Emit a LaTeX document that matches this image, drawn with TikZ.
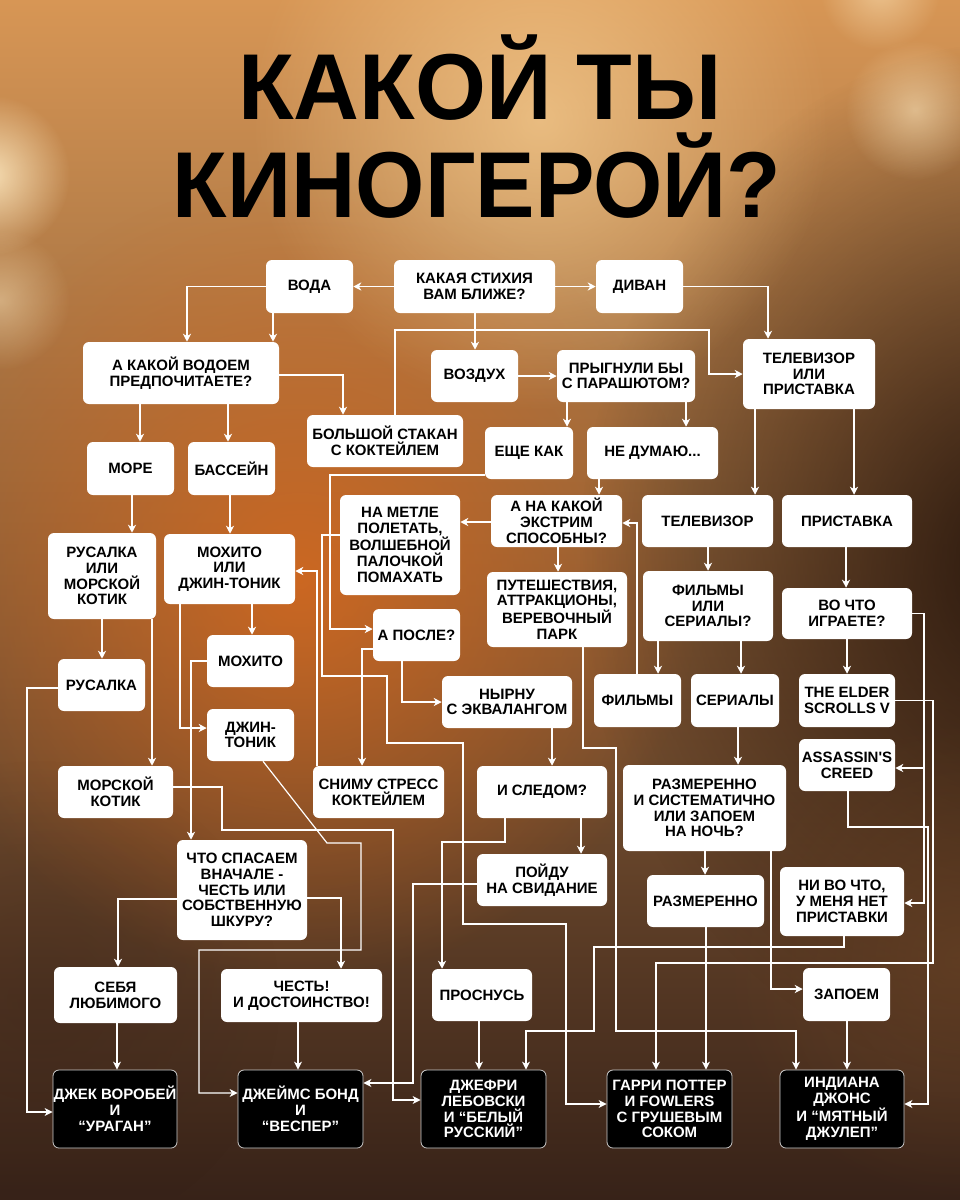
\documentclass[tikz,border=0pt]{standalone}
\usepackage{fontspec}
\newfontfamily\lsans{Liberation Sans}
\usetikzlibrary{fit,arrows.meta,fadings}
\newcommand\bxf{\lsans\bfseries\fontsize{11.25}{11.8}\selectfont}
\newcommand\ttlf{\lsans\bfseries\fontsize{70.2}{72}\selectfont}
\definecolor{ctop}{RGB}{215,150,85}
\definecolor{cmid}{RGB}{175,90,35}
\definecolor{cbot}{RGB}{55,34,24}
\definecolor{cor}{RGB}{215,105,30}
\definecolor{cdark}{RGB}{34,18,10}
\definecolor{cpeach}{RGB}{252,215,155}
\definecolor{cbok}{RGB}{255,236,196}
\definecolor{cbrn}{RGB}{120,75,40}
\tikzfading[name=fuzzy, inner color=transparent!0, outer color=transparent!100]
\pgfdeclarelayer{bg}\pgfdeclarelayer{fg}\pgfdeclarelayer{fgt}\pgfsetlayers{bg,main,fg,fgt}
\tikzset{
  wb/.style={fill=white, rounded corners=4.5pt, inner sep=0pt},
  bb/.style={fill=black, draw=white!80!black, line width=0.6pt, rounded corners=4.5pt, inner sep=0pt},
  wt/.style={font=\bxf, align=center, inner sep=0pt, text=black},
  bt/.style={font=\bxf, align=center, inner sep=0pt, text=white},
  arr/.style={draw=white, line width=0.9pt, -{Stealth[length=6pt,width=6pt,inset=1.8pt]}}
}
\newcommand\wbox[3]{\node[wb, fit={#2}] (#1) {};\node[wt] (#1-t) at (#1.center) {#3};}
\newcommand\bbox[3]{\node[bb, fit={#2}] (#1) {};\node[bt] (#1-t) at (#1.center) {#3};}
\begin{document}
\begin{tikzpicture}[x=0.75pt,y=-0.75pt]
\useasboundingbox (0,0) rectangle (960,1200);
\begin{pgfonlayer}{bg}
\shade[top color=ctop, middle color=cmid, bottom color=cbot] (0,0) rectangle (960,1200);
\fill[cor, path fading=fuzzy, opacity=0.85] (300,580) circle (400);
\fill[cdark, path fading=fuzzy, opacity=0.92] (1020,560) ellipse (440 and 520);
\fill[cpeach, path fading=fuzzy, opacity=0.65] (540,120) circle (290);
\fill[cbok, path fading=fuzzy, opacity=0.85] (-10,175) circle (80);
\fill[cbok, path fading=fuzzy, opacity=0.45] (0,300) circle (70);
\fill[cbok, path fading=fuzzy, opacity=0.55] (915,110) circle (70);
\fill[cbok, path fading=fuzzy, opacity=0.5] (880,-10) circle (60);
\fill[cbrn, path fading=fuzzy, opacity=0.45] (960,960) circle (240);
\fill[cbot, path fading=fuzzy, opacity=0.35] (40,1000) circle (240);
\end{pgfonlayer}

\node[anchor=base, font=\ttlf, text=black, inner sep=0pt] (t1) at (480,119) {\scalebox{0.974}[1]{КАКОЙ ТЫ}};
\node[anchor=base, font=\ttlf, text=black, inner sep=0pt] (t2) at (477,217) {\scalebox{0.952}[1]{КИНОГЕРОЙ?}};

\begin{pgfonlayer}{fg}
\wbox{kakaya}{(394,260)(555,313)}{КАКАЯ СТИХИЯ\\ВАМ БЛИЖЕ?}
\wbox{voda}{(266,260)(353,313)}{ВОДА}
\wbox{divan}{(596,260)(683,313)}{ДИВАН}
\wbox{vodoem}{(83,342)(279,404)}{А КАКОЙ ВОДОЕМ\\ПРЕДПОЧИТАЕТЕ?}
\wbox{more}{(87,442)(174,495)}{МОРЕ}
\wbox{bassein}{(188,442)(275,495)}{БАССЕЙН}
\wbox{stakan}{(307,415)(463,467)}{БОЛЬШОЙ СТАКАН\\С КОКТЕЙЛЕМ}
\wbox{vozduh}{(431,350)(518,402)}{ВОЗДУХ}
\wbox{pryg}{(557,350)(695,402)}{ПРЫГНУЛИ БЫ\\С ПАРАШЮТОМ?}
\wbox{tvp}{(743,339)(875,409)}{ТЕЛЕВИЗОР\\ИЛИ\\ПРИСТАВКА}
\wbox{eshe}{(485,427)(573,479)}{ЕЩЕ КАК}
\wbox{nedum}{(587,427)(718,479)}{НЕ ДУМАЮ...}
\wbox{extrim}{(491,495)(622,547)}{А НА КАКОЙ\\ЭКСТРИМ\\СПОСОБНЫ?}
\wbox{tv}{(642,495)(773,547)}{ТЕЛЕВИЗОР}
\wbox{prist}{(782,495)(912,547)}{ПРИСТАВКА}
\wbox{metla}{(340,495)(460,595)}{НА МЕТЛЕ\\ПОЛЕТАТЬ,\\ВОЛШЕБНОЙ\\ПАЛОЧКОЙ\\ПОМАХАТЬ}
\wbox{travel}{(487,572)(627,647)}{ПУТЕШЕСТВИЯ,\\АТТРАКЦИОНЫ,\\ВЕРЕВОЧНЫЙ\\ПАРК}
\wbox{posle}{(373,609)(460,661)}{А ПОСЛЕ?}
\wbox{nyrnu}{(442,676)(572,728)}{НЫРНУ\\С ЭКВАЛАНГОМ}
\wbox{rusorkot}{(48,533)(156,619)}{РУСАЛКА\\ИЛИ\\МОРСКОЙ\\КОТИК}
\wbox{mohordzh}{(164,534)(295,604)}{МОХИТО\\ИЛИ\\ДЖИН-ТОНИК}
\wbox{mohito}{(207,635)(294,687)}{МОХИТО}
\wbox{rusalka}{(58,659)(145,711)}{РУСАЛКА}
\wbox{dzhin}{(207,709)(294,761)}{ДЖИН-\\ТОНИК}
\wbox{morkot}{(58,766)(173,818)}{МОРСКОЙ\\КОТИК}
\wbox{snimu}{(313,766)(444,818)}{СНИМУ СТРЕСС\\КОКТЕЙЛЕМ}
\wbox{filmy}{(594,674)(681,727)}{ФИЛЬМЫ}
\wbox{serialy}{(691,674)(779,727)}{СЕРИАЛЫ}
\wbox{fors}{(643,571)(773,641)}{ФИЛЬМЫ\\ИЛИ\\СЕРИАЛЫ?}
\wbox{vochto}{(782,588)(912,639)}{ВО ЧТО\\ИГРАЕТЕ?}
\wbox{elder}{(799,674)(895,727)}{THE ELDER\\SCROLLS V}
\wbox{assassin}{(799,739)(895,791)}{ASSASSIN'S\\CREED}
\wbox{sledom}{(477,766)(607,818)}{И СЛЕДОМ?}
\wbox{razmsys}{(623,765)(786,851)}{РАЗМЕРЕННО\\И СИСТЕМАТИЧНО\\ИЛИ ЗАПОЕМ\\НА НОЧЬ?}
\wbox{svidanie}{(477,854)(607,906)}{ПОЙДУ\\НА СВИДАНИЕ}
\wbox{razm}{(647,875)(764,927)}{РАЗМЕРЕННО}
\wbox{nivochto}{(780,867)(904,936)}{НИ ВО ЧТО,\\У МЕНЯ НЕТ\\ПРИСТАВКИ}
\wbox{spasaem}{(177,840)(307,940)}{ЧТО СПАСАЕМ\\ВНАЧАЛЕ -\\ЧЕСТЬ ИЛИ\\СОБСТВЕННУЮ\\ШКУРУ?}
\wbox{sebya}{(54,967)(177,1023)}{СЕБЯ\\ЛЮБИМОГО}
\wbox{chest}{(221,969)(382,1022)}{ЧЕСТЬ!\\И ДОСТОИНСТВО!}
\wbox{prosnus}{(432,969)(532,1021)}{ПРОСНУСЬ}
\wbox{zapoem}{(803,968)(890,1021)}{ЗАПОЕМ}
\bbox{jack}{(53,1070)(177,1148)}{ДЖЕК ВОРОБЕЙ\\И\\“УРАГАН”}
\bbox{bond}{(238,1070)(363,1148)}{ДЖЕЙМС БОНД\\И\\“ВЕСПЕР”}
\bbox{lebowski}{(421,1070)(546,1148)}{ДЖЕФРИ\\ЛЕБОВСКИ\\И “БЕЛЫЙ\\РУССКИЙ”}
\bbox{potter}{(607,1070)(732,1148)}{ГАРРИ ПОТТЕР\\И FOWLERS\\С ГРУШЕВЫМ\\СОКОМ}
\bbox{indiana}{(780,1070)(904,1148)}{ИНДИАНА\\ДЖОНС\\И “МЯТНЫЙ\\ДЖУЛЕП”}
\end{pgfonlayer}

% connectors
\draw[arr] (kakaya.west) -- (voda.east);
\draw[arr] (kakaya.east) -- (divan.west);
\draw[arr] (voda.west) -| (vodoem.north -| 187,0);
\draw[arr] (voda.south -| 273,0) -- (vodoem.north -| 273,0);
\draw[arr] (kakaya.south -| 475,0) -- (vozduh.north -| 475,0);
\draw[arr] (stakan.north -| 395,0) |- (709,330) |- (tvp.west);
\draw[arr] (vodoem.east |- 0,375) -| (stakan.north -| 343,0);
\draw[arr] (vodoem.south -| 140,0) -- (more.north -| 140,0);
\draw[arr] (vodoem.south -| 228,0) -- (bassein.north -| 228,0);
\draw[arr] (more.south -| 132,0) -- (rusorkot.north -| 132,0);
\draw[arr] (bassein.south -| 230,0) -- (mohordzh.north -| 230,0);
\draw[arr] (vozduh.east) -- (pryg.west);
\draw[arr] (divan.east) -| (tvp.north -| 768,0);
\draw[arr] (pryg.south -| 567,0) -- (eshe.north -| 567,0);
\draw[arr] (pryg.south -| 686,0) -- (nedum.north -| 686,0);
\draw[arr] (tvp.south -| 755,0) -- (tv.north -| 755,0);
\draw[arr] (tvp.south -| 854,0) -- (prist.north -| 854,0);
\draw[arr] (nedum.south -| 599,0) -- (extrim.north -| 599,0);
\draw[arr] (eshe.west |- 0,475) -| (330,629) -- (posle.west |- 0,629);
\draw[arr] (metla.west |- 0,535) -| (322,676) -| (387,743) -| (463,924) -| (566,1104) -- (potter.west |- 0,1104);
\draw[arr] (extrim.west |- 0,522) -- (metla.east |- 0,522);
\draw[arr] (extrim.south -| 558,0) -- (travel.north -| 558,0);
\draw[arr] (filmy.north -| 637,0) |- (extrim.east |- 0,523);
\draw[arr] (tv.south -| 708,0) -- (fors.north -| 708,0);
\draw[arr] (prist.south -| 846,0) -- (vochto.north -| 846,0);
\draw[arr] (fors.south -| 658,0) -- (filmy.north -| 658,0);
\draw[arr] (fors.south -| 741,0) -- (serialy.north -| 741,0);
\draw[arr] (vochto.south -| 847,0) -- (elder.north -| 847,0);
\draw[arr] (vochto.east) -| (924,768) -- (assassin.east |- 0,768);
\draw[arr] (vochto.east) -| (924,903) -- (nivochto.east |- 0,903);
\draw[arr] (elder.east) -| (933,963) -| (potter.north -| 656,0);
\draw[arr] (assassin.south -| 848,0) |- (928,827) |- (indiana.east |- 0,1104);
\draw[arr] (nivochto.south -| 844,0) |- (594,947) |- (526,1031) -- (lebowski.north -| 526,0);
\draw[arr] (travel.south -| 583,0) |- (616,748) |- (796,1031) -- (indiana.north -| 796,0);
\draw[arr] (razmsys.south -| 705,0) -- (razm.north -| 705,0);
\draw[arr] (razmsys.south -| 771,0) |- (zapoem.west |- 0,989);
\draw[arr] (razm.south -| 706,0) -- (potter.north -| 706,0);
\draw[arr] (zapoem.south -| 847,0) -- (indiana.north -| 847,0);
\draw[arr] (serialy.south -| 738,0) -- (razmsys.north -| 738,0);
\draw[arr] (nyrnu.south -| 552,0) -- (sledom.north -| 552,0);
\draw[arr] (sledom.south -| 581,0) -- (svidanie.north -| 581,0);
\draw[arr] (sledom.south -| 505,0) |- (442,842) -- (prosnus.north -| 442,0);
\draw[arr] (svidanie.west |- 0,884) -| (413,1083) -- (bond.east |- 0,1083);
\draw[arr] (prosnus.south -| 479,0) -- (lebowski.north -| 479,0);
\draw[arr] (posle.south -| 402,0) |- (nyrnu.west);
\draw[arr] (posle.west |- 0,649) -| (snimu.north -| 362,0);
\draw[arr] (snimu.north -| 317,0) |- (mohordzh.east |- 0,571);
\draw[arr] (mohordzh.south -| 252,0) -- (mohito.north -| 252,0);
\draw[arr] (mohordzh.south -| 180,0) |- (dzhin.west |- 0,728);
\draw[arr] (mohito.west) -| (spasaem.north -| 191,0);
\draw[arr] (dzhin.south -| 263,0) -- (327,843) -| (361,950) -| (199,1093) -- (bond.west |- 0,1093);
\draw[arr] (rusalka.west |- 0,688) -| (27,1112) -- (jack.west |- 0,1112);
\draw[arr] (rusorkot.south -| 102,0) -- (rusalka.north -| 102,0);
\draw[arr] (rusorkot.south -| 152,0) -- (morkot.north -| 152,0);
\draw[arr] (morkot.east |- 0,787) -| (222,830) -| (393,1100) -- (lebowski.west |- 0,1100);
\draw[arr] (spasaem.west |- 0,899) -| (sebya.north -| 118,0);
\draw[arr] (spasaem.east |- 0,898) -| (chest.north -| 341,0);
\draw[arr] (sebya.south -| 117,0) -- (jack.north -| 117,0);
\draw[arr] (chest.south -| 298,0) -- (bond.north -| 298,0);
\end{tikzpicture}
\end{document}
